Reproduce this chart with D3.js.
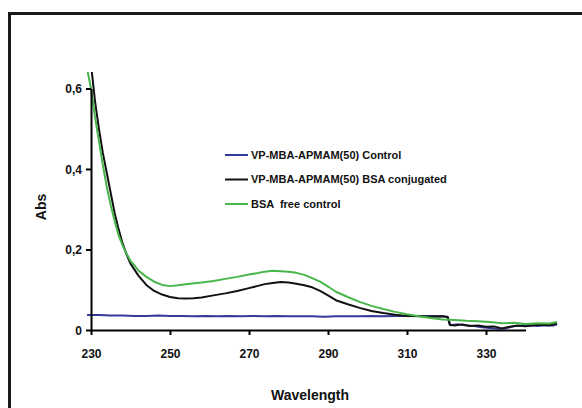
<!DOCTYPE html>
<html>
<head>
<meta charset="utf-8">
<script src="https://cdn.jsdelivr.net/npm/d3@7"></script>
<style>
  body { margin: 0; background: #fff; }
  svg { display: block; font-family: "Liberation Sans", Arial, sans-serif; }
</style>
</head>
<body>
<div id="chart"></div>
<script>
// Wavelength (nm) / absorbance readings
const controlWl = [229, 232, 235, 238, 241, 244, 247, 250, 253, 256, 259, 262, 265, 268, 271, 274, 277, 280, 283, 286, 289, 292, 295, 298, 301, 304, 307, 310, 313, 316, 319, 320.3, 321, 323, 325, 327, 329, 331, 333, 335, 337, 339, 341, 343, 345, 347, 348];
const controlAbs = [0.037, 0.037, 0.036, 0.036, 0.035, 0.035, 0.036, 0.035, 0.035, 0.034, 0.035, 0.034, 0.035, 0.034, 0.035, 0.034, 0.035, 0.034, 0.034, 0.034, 0.033, 0.034, 0.034, 0.034, 0.035, 0.034, 0.035, 0.035, 0.034, 0.035, 0.034, 0.033, 0.012, 0.014, 0.011, 0.010, 0.007, 0.005, 0.003, 0.004, 0.009, 0.011, 0.012, 0.010, 0.012, 0.011, 0.014];

const conjWl = [230, 231, 232, 233, 234, 235, 236, 237, 238, 239, 240, 242, 244, 246, 248, 250, 252, 254, 256, 258, 261, 264, 267, 270, 272, 274, 276, 278, 280, 282, 284, 286, 288, 290, 292, 295, 298, 301, 304, 307, 310, 313, 316, 319, 320.3, 320.8, 322, 324, 326, 328, 330, 332, 334, 336, 338, 340, 342, 344, 346, 348];
const conjAbs = [0.66, 0.57, 0.5, 0.44, 0.39, 0.34, 0.29, 0.25, 0.215, 0.188, 0.165, 0.135, 0.112, 0.097, 0.088, 0.082, 0.079, 0.078, 0.079, 0.081, 0.086, 0.091, 0.097, 0.104, 0.109, 0.114, 0.117, 0.119, 0.118, 0.115, 0.111, 0.106, 0.097, 0.086, 0.074, 0.064, 0.055, 0.047, 0.042, 0.038, 0.035, 0.035, 0.033, 0.034, 0.032, 0.013, 0.011, 0.014, 0.010, 0.011, 0.008, 0.009, 0.004, 0.008, 0.011, 0.009, 0.012, 0.013, 0.012, 0.016];

const freeWl = [229, 230, 231, 232, 233, 234, 235, 236, 237, 238, 239, 240, 242, 244, 246, 248, 250, 252, 255, 258, 261, 264, 267, 270, 272, 274, 276, 278, 280, 282, 284, 286, 288, 290, 292, 295, 298, 301, 304, 307, 310, 313, 316, 319, 322, 325, 328, 331, 334, 337, 340, 343, 346, 348];
const freeAbs = [0.65, 0.6, 0.53, 0.47, 0.41, 0.355, 0.31, 0.27, 0.235, 0.21, 0.19, 0.172, 0.148, 0.132, 0.12, 0.112, 0.109, 0.111, 0.115, 0.118, 0.122, 0.127, 0.132, 0.138, 0.141, 0.145, 0.147, 0.146, 0.145, 0.142, 0.137, 0.129, 0.12, 0.108, 0.095, 0.082, 0.07, 0.06, 0.052, 0.045, 0.039, 0.034, 0.03, 0.026, 0.025, 0.023, 0.022, 0.02, 0.017, 0.018, 0.015, 0.017, 0.016, 0.02];

const xTicks = [230, 250, 270, 290, 310, 330];
const yTicks = [0, 0.2, 0.4, 0.6];
const seriesNames = ["VP-MBA-APMAM(50) Control", "VP-MBA-APMAM(50) BSA conjugated", "BSA  free control"];
const seriesColors = ["#333a9a", "#111111", "#48b64b"];

const series = [
  controlWl.map((w, i) => ({ w: w, a: controlAbs[i] })),
  conjWl.map((w, i) => ({ w: w, a: conjAbs[i] })),
  freeWl.map((w, i) => ({ w: w, a: freeAbs[i] }))
];

const W = 582, H = 408;
const svg = d3.select("#chart").append("svg")
  .attr("width", W)
  .attr("height", H);

// outer frame (runs off right and bottom)
svg.append("rect")
  .attr("x", 9.5).attr("y", 13.5)
  .attr("width", 600).attr("height", 420)
  .attr("fill", "none")
  .attr("stroke", "#1a1a1a")
  .attr("stroke-width", 3);

const x = d3.scaleLinear().domain([230, 340]).range([91, 525.5]);
const y = d3.scaleLinear().domain([0, 0.6]).range([330, 88.5]);

svg.append("clipPath").attr("id", "plot-clip")
  .append("rect").attr("x", 80).attr("y", 72).attr("width", 500).attr("height", 300);

// lines
const line = d3.line()
  .x(d => x(d.w))
  .y(d => y(d.a))
  .curve(d3.curveLinear);

svg.append("g").attr("clip-path", "url(#plot-clip)")
  .selectAll("path")
  .data(series)
  .enter()
  .append("path")
  .attr("d", line)
  .attr("fill", "none")
  .attr("stroke", (d, i) => seriesColors[i])
  .attr("stroke-width", 2)
  .attr("stroke-linejoin", "round");

// axes
const yAxis = d3.axisLeft(y)
  .tickValues(yTicks)
  .tickSize(5)
  .tickSizeOuter(0)
  .tickFormat(d => d === 0 ? "0" : d3.format(".1f")(d).replace(".", ","));

const xAxis = d3.axisBottom(x)
  .tickValues(xTicks)
  .tickSize(5)
  .tickSizeOuter(0)
  .tickFormat(d3.format("d"));

const gy = svg.append("g")
  .attr("transform", "translate(91,0)")
  .call(yAxis);

const gx = svg.append("g")
  .attr("transform", "translate(0,330)")
  .call(xAxis);

[gx, gy].forEach(g => {
  g.selectAll("path, line").attr("stroke", "#000").attr("stroke-width", 2);
  g.selectAll("text")
    .attr("fill", "#111")
    .style("font-size", "12px")
    .style("font-weight", "bold")
    .style("font-family", "'Liberation Sans', Arial, sans-serif");
});
gy.selectAll("text").attr("x", -9).attr("dy", "0.36em");
gx.selectAll("text").attr("y", 19);

// axis titles
svg.append("text")
  .attr("x", 310).attr("y", 400)
  .attr("text-anchor", "middle")
  .style("font-size", "14px")
  .style("font-weight", "bold")
  .attr("fill", "#111")
  .text("Wavelength");

svg.append("text")
  .attr("transform", "translate(46,207) rotate(-90)")
  .attr("text-anchor", "middle")
  .style("font-size", "14px")
  .style("font-weight", "bold")
  .attr("fill", "#111")
  .text("Abs");

// legend
const legend = svg.append("g").attr("transform", "translate(225,155)");
seriesNames.forEach((name, i) => {
  const row = legend.append("g").attr("transform", "translate(0," + (i * 24.5) + ")");
  row.append("line")
    .attr("x1", 0).attr("x2", 23)
    .attr("y1", 0).attr("y2", 0)
    .attr("stroke", seriesColors[i])
    .attr("stroke-width", 2);
  row.append("text")
    .attr("x", 26).attr("y", 0)
    .attr("dy", "0.36em")
    .style("font-size", "11px")
    .style("font-weight", "bold")
    .attr("fill", "#111")
    .style("white-space", "pre")
    .attr("xml:space", "preserve")
    .text(name);
});
</script>
</body>
</html>
